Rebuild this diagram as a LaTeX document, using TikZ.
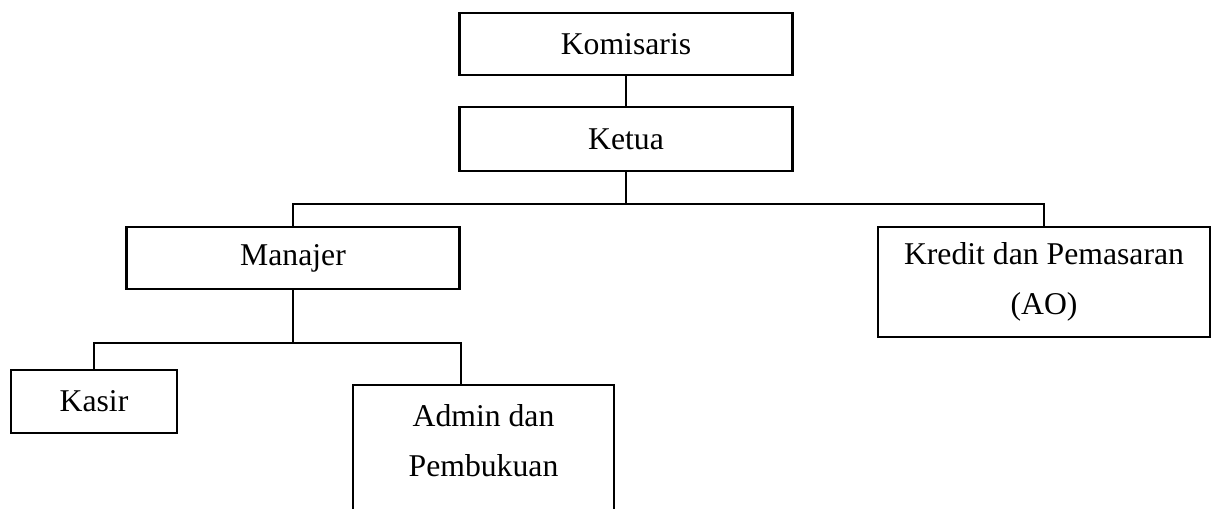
\documentclass[tikz,border=0pt]{standalone}
\usepackage{fontspec}
\setmainfont{Liberation Serif}
\usetikzlibrary{calc}

\begin{document}
\begin{tikzpicture}
[ x=0.5pt, y=-0.5pt,
block/.style ={rectangle, draw=black, line width=1.1pt, fill=white,
 text centered, align=center, inner sep=0pt,
 font=\fontsize{15.85}{25}\selectfont},
wide/.style ={block, minimum width=166.5pt, minimum height=31pt},
line/.style ={draw=black, line width=1.1pt},
]
\useasboundingbox (0,0) rectangle (1211,509);
\clip (0,0) rectangle (1211,509);

% top
\node (komisaris) [wide] at (626,44) {Komisaris};
\node (ketua) [wide, minimum height=32pt] at (626,139) {Ketua};
% middle row
\node (manajer) [wide] at (293,258) {Manajer};
\node (kredit) [block, minimum width=166pt, minimum height=55pt] at (1044,282)
  {Kredit dan Pemasaran\\(AO)};
% bottom row
\node (kasir) [block, minimum width=83pt, minimum height=31.5pt] at (94,401.5) {Kasir};
\node (admin) [block, minimum width=130.5pt, minimum height=80pt, anchor=north]
  at (483.5,384) {Admin dan\\Pembukuan\\\mbox{}};

\coordinate (bus1) at ($(ketua.south)+(0,32)$);
\coordinate (bus2) at ($(manajer.south)+(0,53)$);

\draw[line] (komisaris) -- (ketua);
\draw[line] (ketua) -- (bus1);
\draw[line] (manajer) |- (bus1) -| (kredit);
\draw[line] (manajer) -- (bus2);
\draw[line] (kasir) |- (bus2) -| (manajer.east |- admin.north);
\end{tikzpicture}
\end{document}
